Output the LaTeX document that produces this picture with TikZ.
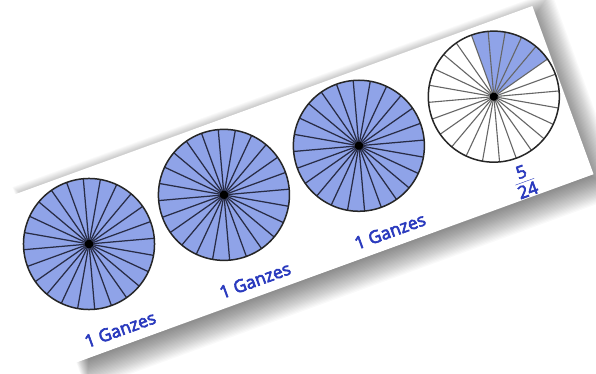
\documentclass[tikz,border=0pt]{standalone}
\usepackage{fontspec}
\newfontfamily\lblfont{Open Sans}[FakeBold=3.5]
\definecolor{diskblue}{RGB}{143,163,232}
\definecolor{lblblue}{RGB}{42,58,190}
\definecolor{spokecol}{RGB}{40,44,70}
\tikzset{
  rimline/.style={draw=black!85, line width=1.5pt},
  spokeline/.style={draw=spokecol, line width=1.25pt},
  spokegray/.style={draw=black!60, line width=1.1pt},
  hubdot/.style={fill=black},
  lbl/.style={text=lblblue, font=\lblfont\fontsize{17.5}{20}\selectfont, transform shape, inner sep=0pt},
  wheel/.style={circle, minimum size=131pt, inner sep=0pt}
}
\begin{document}
\begin{tikzpicture}[x=1pt,y=1pt]
\useasboundingbox (0,0) rectangle (596,374);
\fill[white] (0,0) rectangle (596,374);
\begin{scope}[shift={(89,130)}, rotate=20]
  % soft shadow
  \foreach \k in {0,...,24} {
    \fill[black, opacity=0.025] (-38-\k*0.6, -105-\k*1.3) rectangle (492+\k*1.2, 58+\k*0.9);
  }
  % card
  \fill[white] (-68,-107) rectangle (498,72);
  % wheels
  \node[wheel, fill=diskblue] (c1) at (0,0) {};
  \node[wheel, fill=diskblue] (c2) at (143.6,0) {};
  \node[wheel, fill=diskblue] (c3) at (287.2,0) {};
  \node[wheel, fill=white] (c4) at (430.8,0) {};
  \fill[diskblue] (c4.center) -- ++(15:65.5) arc[start angle=15, end angle=90, radius=65.5] -- cycle;
  \foreach \c in {c1,c2,c3} {
    \foreach \a in {0,15,...,345} { \draw[spokeline] (\c.center) -- ++(\a:65.5); }
  }
  \foreach \a in {0,15,...,345} { \draw[spokegray] (c4.center) -- ++(\a:65.5); }
  \foreach \c in {c1,c2,c3,c4} {
    \draw[rimline] (\c.center) circle[radius=65.5];
    \fill[hubdot] (\c.center) circle[radius=4.2];
  }
  % labels
  \node[lbl] (l1) at (0,-91) {1 Ganzes};
  \node[lbl] (l2) at (143.6,-91) {1 Ganzes};
  \node[lbl] (l3) at (287.2,-91) {1 Ganzes};
  \node[lbl] (l4) at (430.8,-92) {\begin{tabular}{@{}c@{}}5\\[-2pt]\hline\noalign{\vskip1pt}24\end{tabular}};
\end{scope}
\end{tikzpicture}
\end{document}
